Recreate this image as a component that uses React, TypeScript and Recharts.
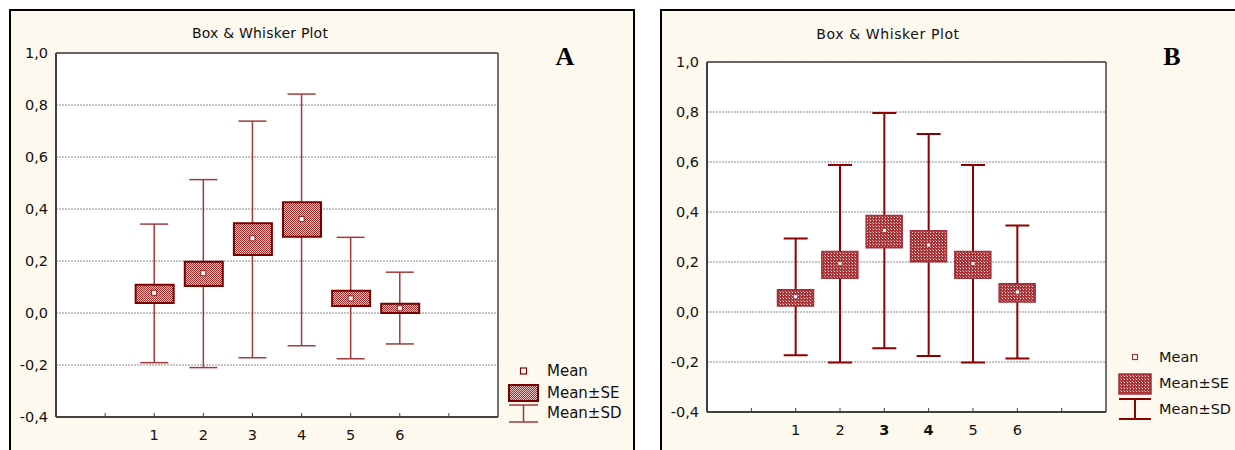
import React from "react";
import {
  ComposedChart,
  XAxis,
  YAxis,
  CartesianGrid,
  Bar,
  Scatter,
  ErrorBar,
  Legend,
} from "recharts";

// groups on the x axis, plus the tick slots around them
const groups = [1, 2, 3, 4, 5, 6];
const xTicks = [0, 1, 2, 3, 4, 5, 6, 7];
const yTicks = [-0.4, -0.2, 0, 0.2, 0.4, 0.6, 0.8, 1.0];

// panel A
const meanA = [0.078, 0.153, 0.287, 0.362, 0.056, 0.018];
const seLowA = [0.038, 0.104, 0.223, 0.293, 0.027, 0.0];
const seHighA = [0.109, 0.197, 0.345, 0.426, 0.086, 0.036];
const sdLowA = [-0.191, -0.21, -0.172, -0.126, -0.176, -0.119];
const sdHighA = [0.342, 0.513, 0.738, 0.842, 0.291, 0.157];

// panel B
const meanB = [0.061, 0.194, 0.326, 0.268, 0.194, 0.08];
const seLowB = [0.024, 0.135, 0.257, 0.201, 0.135, 0.04];
const seHighB = [0.089, 0.242, 0.386, 0.325, 0.242, 0.113];
const sdLowB = [-0.173, -0.202, -0.145, -0.176, -0.202, -0.186];
const sdHighB = [0.294, 0.588, 0.796, 0.712, 0.588, 0.346];
const boldB = [3, 4];

const legendLabels = ["Mean", "Mean±SE", "Mean±SD"];

const buildRows = (
  mean: number[],
  seLow: number[],
  seHigh: number[],
  sdLow: number[],
  sdHigh: number[]
) =>
  groups.map((g, i) => ({
    x: g,
    mean: mean[i],
    se: [seLow[i], seHigh[i]],
    sd: [mean[i] - sdLow[i], sdHigh[i] - mean[i]],
  }));

const rowsA = buildRows(meanA, seLowA, seHighA, sdLowA, sdHighA);
const rowsB = buildRows(meanB, seLowB, seHighB, sdLowB, sdHighB);

const fmtY = (v: number) => v.toFixed(1).replace(".", ",");
const AXIS = "#404040";

type Style = {
  id: string;
  boxStroke: string;
  boxStrokeWidth: number;
  whisker: string;
  whiskerWidth: number;
  capHalf: number;
  barSize: number;
  meanSize: number;
  bold: number[];
  legend: {
    rows: number[];
    box: [number, number];
    sd: [number, number];
    iconX: [number, number];
    fontSize: number;
  };
};

function PatternDefs({ id }: { id: string }) {
  if (id === "A") {
    return (
      <pattern id="patA" width="2" height="2" patternUnits="userSpaceOnUse">
        <rect width="2" height="2" fill="#ecc8c8" />
        <rect x="0" y="0" width="1" height="1" fill="#9e2a2a" />
        <rect x="1" y="1" width="1" height="1" fill="#9e2a2a" />
      </pattern>
    );
  }
  return (
    <pattern id="patB" width="3" height="3" patternUnits="userSpaceOnUse">
      <rect width="3" height="3" fill="#a83236" />
      <rect x="1" y="1" width="1" height="1" fill="#ffe8e8" />
      <rect x="0" y="0" width="1" height="1" fill="#d58a8a" />
    </pattern>
  );
}

function LegendBox({ s }: { s: Style }) {
  const L = s.legend;
  const [x0, x1] = L.iconX;
  const cx = (x0 + x1) / 2;
  const m = s.meanSize + 1;
  return (
    <svg width={140} height={80} style={{ display: "block" }}>
      <defs>
        <PatternDefs id={s.id} />
      </defs>
      <rect
        x={cx - m / 2}
        y={L.rows[0] - m / 2}
        width={m}
        height={m}
        fill="#fff"
        stroke={s.boxStroke}
        strokeWidth={1.2}
      />
      <rect
        x={x0}
        y={L.box[0]}
        width={x1 - x0}
        height={L.box[1] - L.box[0]}
        fill={`url(#pat${s.id})`}
        stroke={s.boxStroke}
        strokeWidth={s.boxStrokeWidth}
      />
      <line x1={x0} x2={x1} y1={L.sd[0]} y2={L.sd[0]} stroke={s.whisker} strokeWidth={s.whiskerWidth} />
      <line x1={x0} x2={x1} y1={L.sd[1]} y2={L.sd[1]} stroke={s.whisker} strokeWidth={s.whiskerWidth} />
      <line x1={cx} x2={cx} y1={L.sd[0]} y2={L.sd[1]} stroke={s.whisker} strokeWidth={s.whiskerWidth} />
      {legendLabels.map((t, i) => (
        <text key={t} x={42} y={L.rows[i]} dy="0.36em" fontSize={L.fontSize} fill="#111">
          {t}
        </text>
      ))}
    </svg>
  );
}

function XTick(props: any) {
  const { x, y, payload, bold } = props;
  const v = payload.value;
  if (!groups.includes(v)) return <g />;
  return (
    <text
      x={x}
      y={y}
      dy="0.71em"
      textAnchor="middle"
      fontSize={14.5}
      fill="#111"
      fontWeight={bold.includes(v) ? "bold" : "normal"}
    >
      {v}
    </text>
  );
}

function BoxPanel({
  rows,
  s,
  width,
  margin,
  yAxisWidth,
  legendPos,
}: {
  rows: any[];
  s: Style;
  width: number;
  margin: { top: number; right: number; bottom: number; left: number };
  yAxisWidth: number;
  legendPos: { left: number; top: number };
}) {
  return (
    <ComposedChart width={width} height={450} data={rows} margin={margin}>
      <defs>
        <PatternDefs id={s.id} />
      </defs>
      <CartesianGrid
        vertical={false}
        stroke="#8a8a8a"
        strokeDasharray="2 1"
        fill="#ffffff"
        fillOpacity={1}
      />
      <XAxis
        dataKey="x"
        type="number"
        domain={[-1, 8]}
        ticks={xTicks}
        interval={0}
        allowDataOverflow
        height={30}
        tickSize={-4}
        tickMargin={17}
        tickLine={{ stroke: AXIS }}
        axisLine={{ stroke: AXIS, strokeWidth: 2 }}
        tick={<XTick bold={s.bold} />}
      />
      <XAxis
        xAxisId="top"
        orientation="top"
        type="number"
        domain={[-1, 8]}
        ticks={xTicks}
        interval={0}
        allowDataOverflow
        height={10}
        tickSize={-4}
        tick={false}
        tickLine={{ stroke: AXIS }}
        axisLine={{ stroke: AXIS, strokeWidth: 1.5 }}
      />
      <YAxis
        type="number"
        domain={[-0.4, 1.0]}
        ticks={yTicks}
        interval={0}
        allowDataOverflow
        width={yAxisWidth}
        tickSize={0}
        tickMargin={8}
        tickFormatter={fmtY}
        tick={{ fill: "#111", fontSize: 14.5 }}
        axisLine={{ stroke: AXIS, strokeWidth: 2 }}
      />
      <YAxis
        yAxisId="r"
        orientation="right"
        type="number"
        domain={[-0.4, 1.0]}
        ticks={yTicks}
        interval={0}
        allowDataOverflow
        width={10}
        tickSize={-4}
        tick={false}
        tickLine={{ stroke: AXIS }}
        axisLine={{ stroke: AXIS, strokeWidth: 1.5 }}
      />
      <Scatter dataKey="mean" shape={() => <g />} isAnimationActive={false} zIndex={300}>
        <ErrorBar
          dataKey="sd"
          direction="y"
          width={s.capHalf}
          stroke={s.whisker}
          strokeWidth={s.whiskerWidth}
          isAnimationActive={false}
          zIndex={300}
        />
      </Scatter>
      <Bar
        dataKey="se"
        barSize={s.barSize}
        fill={`url(#pat${s.id})`}
        stroke={s.boxStroke}
        strokeWidth={s.boxStrokeWidth}
        isAnimationActive={false}
        zIndex={500}
      />
      <Scatter
        dataKey="mean"
        isAnimationActive={false}
        zIndex={700}
        shape={(p: any) => (
          <rect
            x={p.cx - s.meanSize / 2}
            y={p.cy - s.meanSize / 2}
            width={s.meanSize}
            height={s.meanSize}
            fill="#fff"
            stroke={s.boxStroke}
            strokeWidth={0.8}
          />
        )}
      />
      <Legend
        layout="horizontal"
        verticalAlign="middle"
        align="center"
        wrapperStyle={{ left: legendPos.left, top: legendPos.top, width: 140 }}
        content={() => <LegendBox s={s} />}
      />
    </ComposedChart>
  );
}

const styleA: Style = {
  id: "A",
  boxStroke: "#7a0000",
  boxStrokeWidth: 2,
  whisker: "#a23a3a",
  whiskerWidth: 1.5,
  capHalf: 14,
  barSize: 38,
  meanSize: 5,
  bold: [],
  legend: { rows: [11, 33, 53], box: [25, 41], sd: [45, 62], iconX: [4, 33], fontSize: 15 },
};

const styleB: Style = {
  id: "B",
  boxStroke: "#a3303a",
  boxStrokeWidth: 1.5,
  whisker: "#8b0000",
  whiskerWidth: 2,
  capHalf: 12,
  barSize: 36,
  meanSize: 4,
  bold: boldB,
  legend: { rows: [12, 38, 64], box: [29, 49], sd: [54, 74], iconX: [2, 34], fontSize: 14.5 },
};

const frame: React.CSSProperties = {
  position: "absolute",
  top: 9,
  height: 480,
  boxSizing: "border-box",
  border: "2px solid #000",
  background: "#fef9ee",
};

const title: React.CSSProperties = {
  position: "absolute",
  fontSize: 14,
  lineHeight: "16px",
  color: "#111",
  transform: "translateX(-50%)",
  whiteSpace: "nowrap",
};

const letter: React.CSSProperties = {
  position: "absolute",
  fontFamily: "'Liberation Serif', 'Times New Roman', serif",
  fontWeight: "bold",
  fontSize: 26,
  lineHeight: "26px",
  transform: "translateX(-50%)",
};

export default function App() {
  return (
    <div
      style={{
        position: "absolute",
        left: 0,
        top: 0,
        width: 1235,
        height: 450,
        overflow: "hidden",
        background: "#fff",
        fontFamily: "'DejaVu Sans', sans-serif",
      }}
    >
      <div style={{ ...frame, left: 9, width: 626 }} />
      <div style={{ ...frame, left: 660, width: 620 }} />

      <div style={{ position: "absolute", left: 0, top: 0 }}>
        <BoxPanel
          rows={rowsA}
          s={styleA}
          width={634}
          margin={{ top: 43, right: 126, bottom: 3, left: 0 }}
          yAxisWidth={56}
          legendPos={{ left: 505, top: 360 }}
        />
      </div>
      <div style={{ position: "absolute", left: 650, top: 0 }}>
        <BoxPanel
          rows={rowsB}
          s={styleB}
          width={585}
          margin={{ top: 52, right: 119, bottom: 8, left: 0 }}
          yAxisWidth={57}
          legendPos={{ left: 467, top: 345 }}
        />
      </div>

      <div style={{ ...title, left: 260, top: 25, letterSpacing: 0.2 }}>Box &amp; Whisker Plot</div>
      <div style={{ ...title, left: 888, top: 26, letterSpacing: 0.6 }}>Box &amp; Whisker Plot</div>
      <div style={{ ...letter, left: 565, top: 44 }}>A</div>
      <div style={{ ...letter, left: 1172, top: 44 }}>B</div>
    </div>
  );
}
